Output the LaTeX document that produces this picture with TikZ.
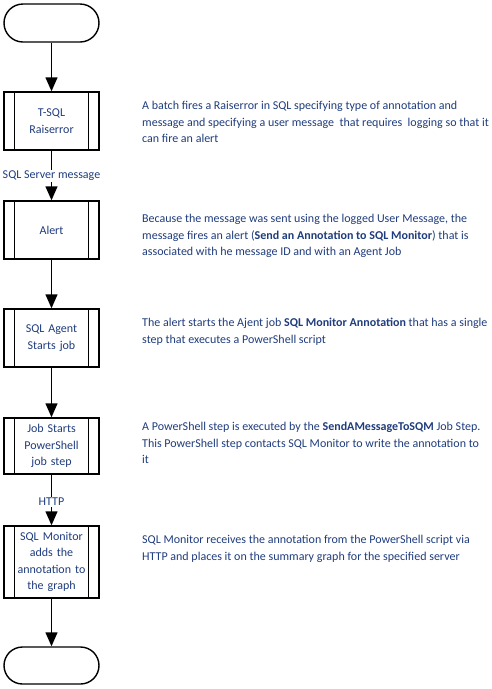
\documentclass[tikz,border=0pt]{standalone}
\usepackage{fontspec}
\setmainfont{Carlito}
\usetikzlibrary{arrows.meta,shapes.misc,calc}
\definecolor{ink}{HTML}{1F3C7C}
\begin{document}
\begin{tikzpicture}[x=1pt,y=-1pt,
  line/.style={line width=1.4pt,draw=black},
  arr/.style={line,-{Triangle[width=12pt,length=14pt]}},
  term/.style={rounded rectangle,line,minimum width=95pt,minimum height=38pt,inner sep=0pt},
  proc/.style={rectangle,line,minimum width=95pt,text width=80pt,align=center,inner sep=0pt,
     font=\fontsize{12}{16.5}\selectfont,text=ink},
  lbl/.style={font=\fontsize{12}{14}\selectfont,text=ink,inner sep=1pt},
  desc/.style={anchor=north west,align=left,inner sep=0pt,
     font=\fontsize{12}{16.5}\selectfont,text=ink}]
\useasboundingbox (0,0) rectangle (491,689);
\node[term] (start) at (51.5,23) {};
\node[proc,minimum height=58pt] (b1) at (51.5,121) {T-SQL\\Raiserror};
\node[lbl] (m1) at (51.5,176) {SQL Server message};
\node[proc,minimum height=58pt] (b2) at (51.5,230) {Alert};
\node[proc,minimum height=58pt] (b3) at (51.5,338) {SQL Agent\\Starts job};
\node[proc,minimum height=56pt] (b4) at (51.5,446) {Job Starts\\PowerShell\\job step};
\node[lbl] (m2) at (51.5,502) {HTTP};
\node[proc,minimum height=72pt] (b5) at (51.5,562) {SQL Monitor\\adds the\\annotation to\\the graph};
\node[term,minimum height=37pt] (end) at (51.5,665.5) {};
\foreach \b in {b1,b2,b3,b4,b5}{
  \draw[line width=1.1pt] ($(\b.north west)+(11,0)$) -- ($(\b.south west)+(11,0)$);
  \draw[line width=1.1pt] ($(\b.north east)+(-11,0)$) -- ($(\b.south east)+(-11,0)$);
}
\draw[arr] (start) -- (b1);
\draw[line] (b1) -- (m1);
\draw[arr] (m1) -- (b2);
\draw[arr] (b2) -- (b3);
\draw[arr] (b3) -- (b4);
\draw[line] (b4) -- (m2);
\draw[arr] (m2) -- (b5);
\draw[arr] (b5) -- (end);
\node[desc] (d1) at (142,101) {A batch fires a Raiserror in SQL specifying type of annotation and\\message and specifying a user message\ \ that requires\ \ logging so that it\\can fire an alert};
\node[desc] (d2) at (142,214) {Because the message was sent using the logged User Message, the\\message fires an alert (\textbf{Send an Annotation to SQL Monitor}) that is\\associated with he message ID and with an Agent Job};
\node[desc] (d3) at (142,318) {The alert starts the Ajent job \textbf{SQL Monitor Annotation} that has a single\\step that executes a PowerShell script};
\node[desc] (d4) at (142,422) {A PowerShell step is executed by the \textbf{SendAMessageToSQM} Job Step.\\This PowerShell step contacts SQL Monitor to write the annotation to\\it};
\node[desc] (d5) at (142,535) {SQL Monitor receives the annotation from the PowerShell script via\\HTTP and places it on the summary graph for the specified server};
\end{tikzpicture}
\end{document}
